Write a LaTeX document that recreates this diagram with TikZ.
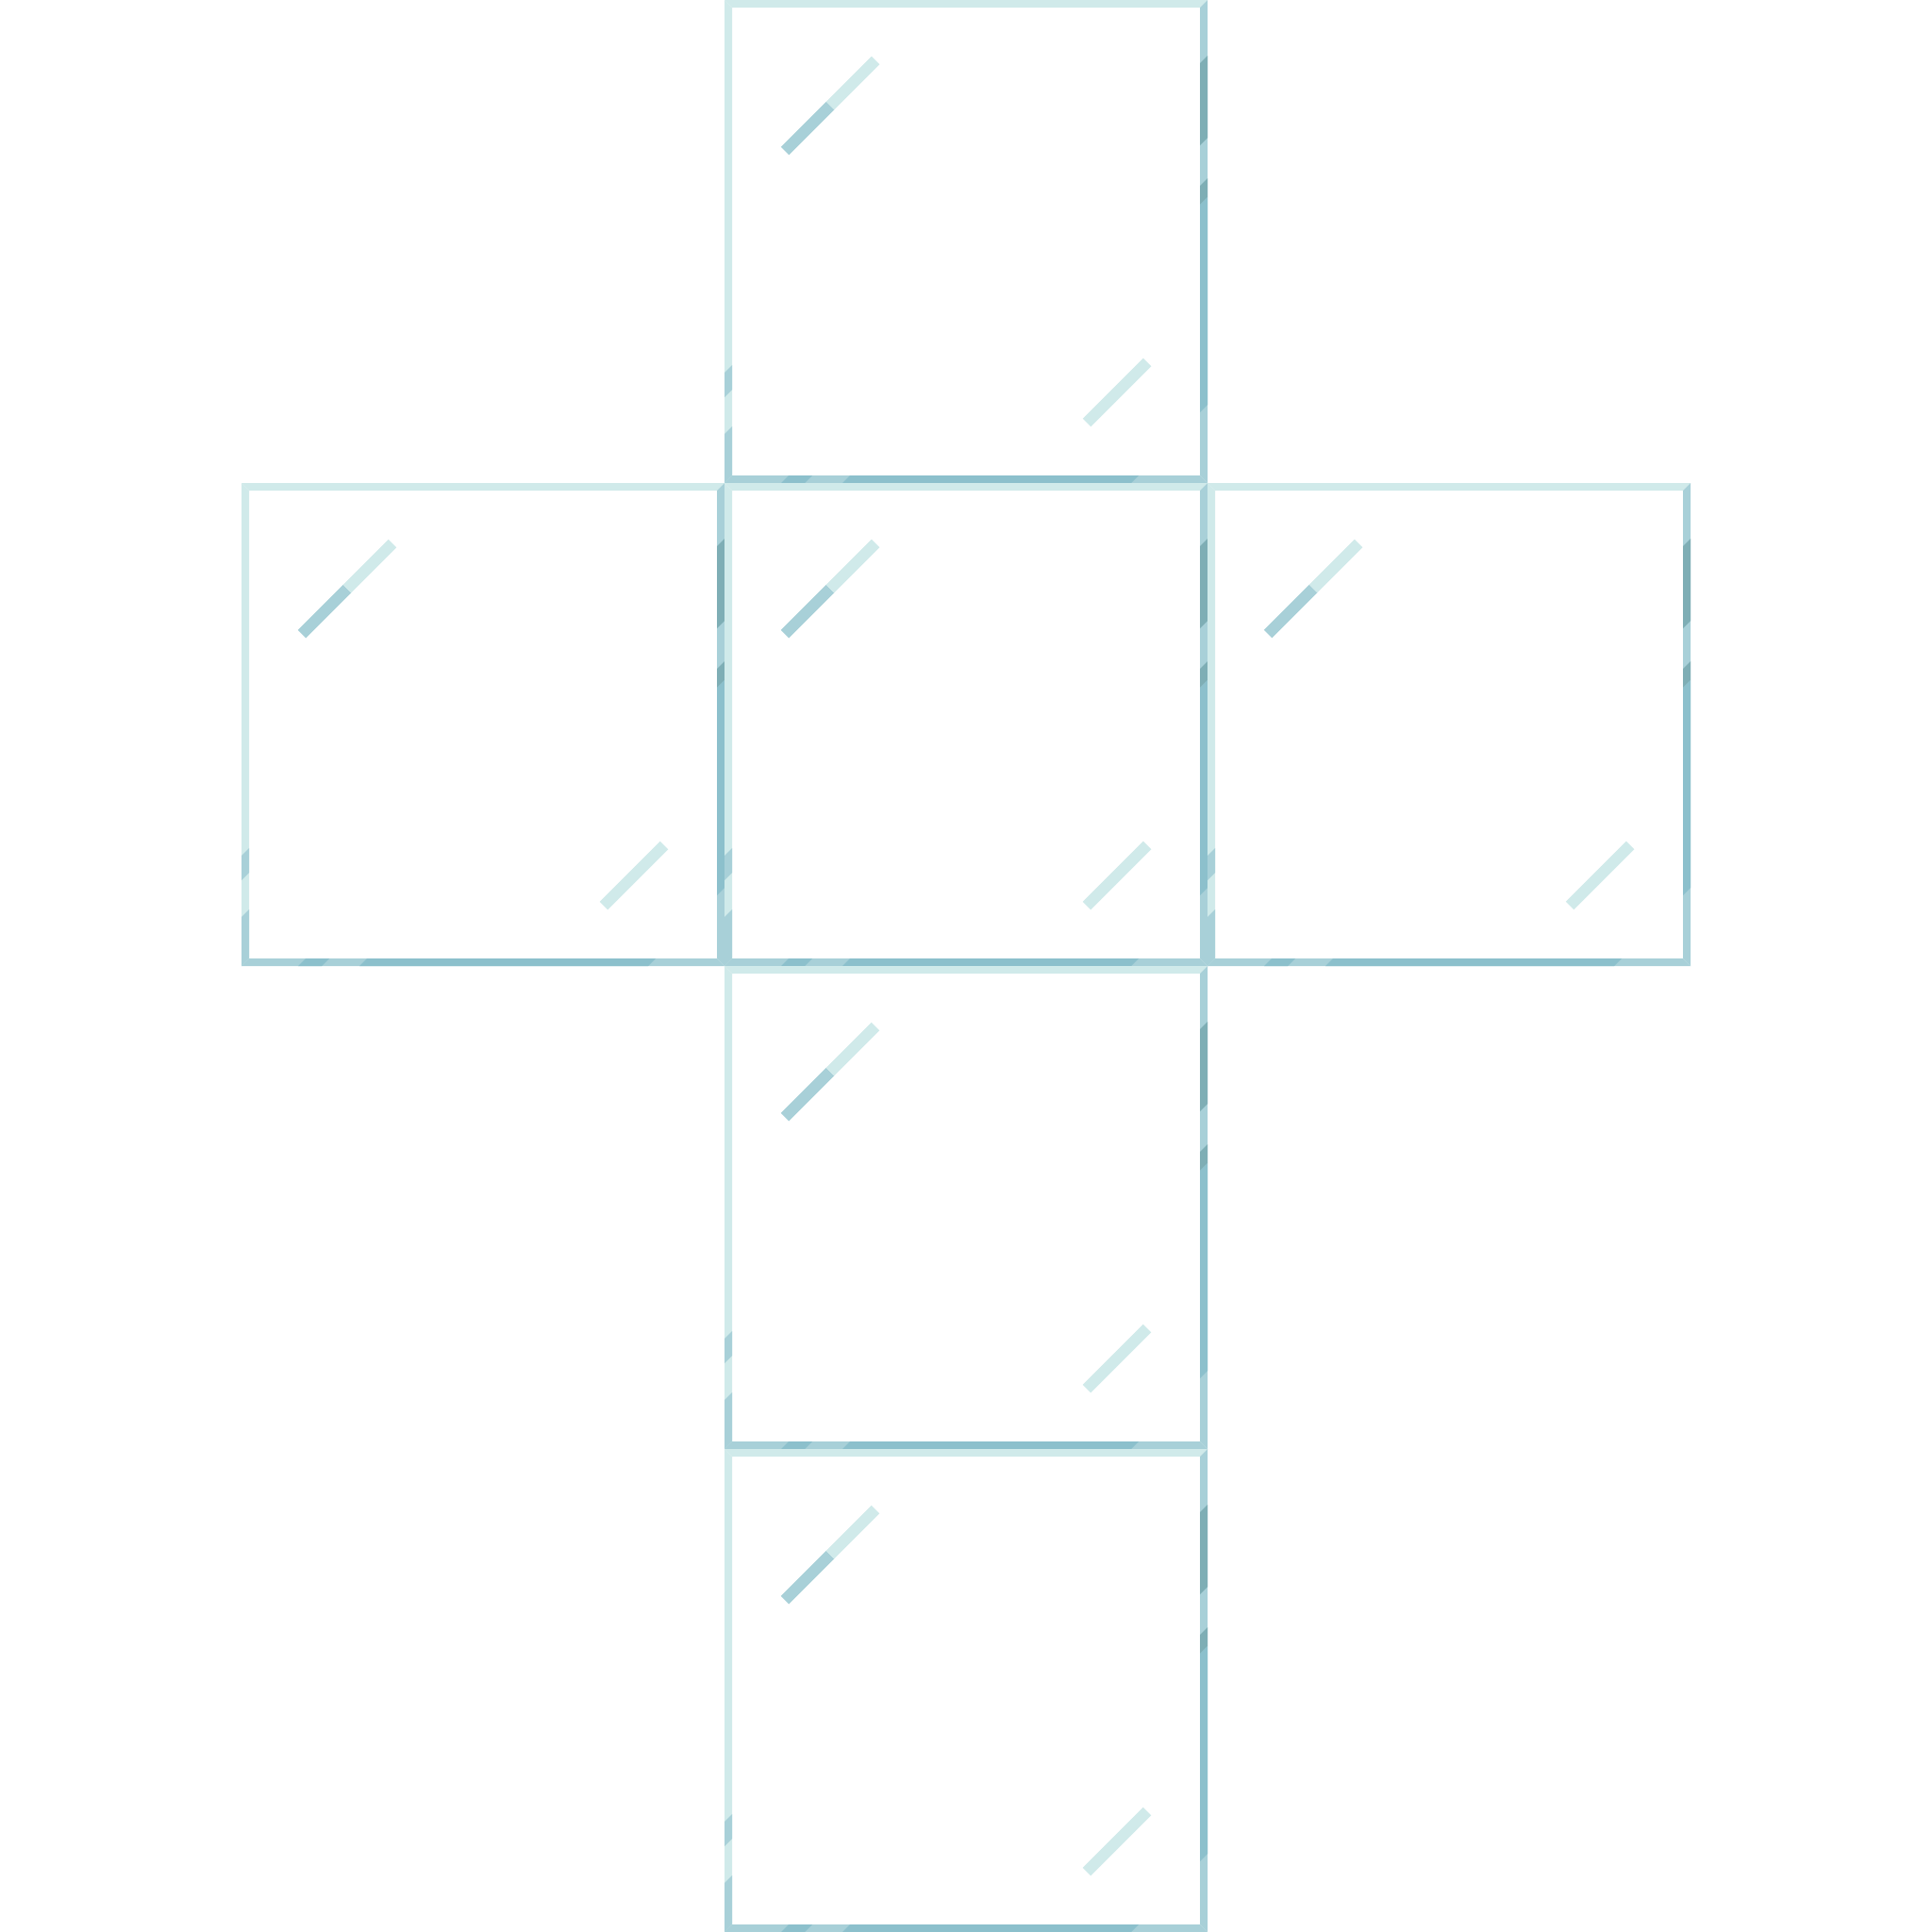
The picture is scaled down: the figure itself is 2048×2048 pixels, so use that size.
\documentclass[tikz,border=0pt]{standalone}
\definecolor{paneLight}{HTML}{D0EAEA}
\definecolor{paneMid}{HTML}{A8D0D8}
\definecolor{paneDark}{HTML}{8CC0CC}
\definecolor{paneDeep}{HTML}{7EAEB5}
\begin{document}
\begin{tikzpicture}[x=0.01cm,y=-0.01cm,line cap=butt,line join=miter]
	\def \side{512}
	\def \rim{8}
	\fill[white] (0,0) rectangle (2048,2048);
	\useasboundingbox (0,0) rectangle (2048,2048);
	% the six panes of the net
	\foreach \px/\py in {768/0,256/512,768/512,1280/512,768/1024,768/1536}{
		\begin{scope}[shift={(\px,\py)}]
			% frame: lit top and left, shaded right and bottom
			\fill[paneLight] (0,0) -- (\side,0) -- (504,8) -- (8,8) -- cycle;
			\fill[paneLight] (0,0) -- (8,8) -- (8,504) -- (0,\side) -- cycle;
			\fill[paneMid] (\side,0) -- (\side,\side) -- (504,504) -- (504,8) -- cycle;
			\fill[paneMid] (0,\side) -- (\side,\side) -- (504,504) -- (8,504) -- cycle;
			% diagonal reflections on the frame
			\foreach \a/\b in {395/421,460/512}{
				\fill[paneMid] (0,\a) -- (0,\b) -- (8,{\b-8}) -- (8,{\a-8}) -- cycle;}
			\foreach \a/\b/\c in {571/658/paneDeep,701/721/paneDeep,721/941/paneDark}{
				\fill[\c] (504,{\a-504}) -- (512,{\a-512}) -- (512,{\b-512}) -- (504,{\b-504}) -- cycle;}
			\foreach \a/\b in {572/597,637/943}{
				\fill[paneDark] ({\a-504},504) -- ({\b-504},504) -- ({\b-512},512) -- ({\a-512},512) -- cycle;}
			% glints on the glass
			\draw[paneMid,line width=0.12cm] (64,160) -- (112,112);
			\draw[paneLight,line width=0.12cm] (112,112) -- (160,64);
			\draw[paneLight,line width=0.12cm] (384,448) -- (448,384);
		\end{scope}
	}
\end{tikzpicture}
\end{document}
